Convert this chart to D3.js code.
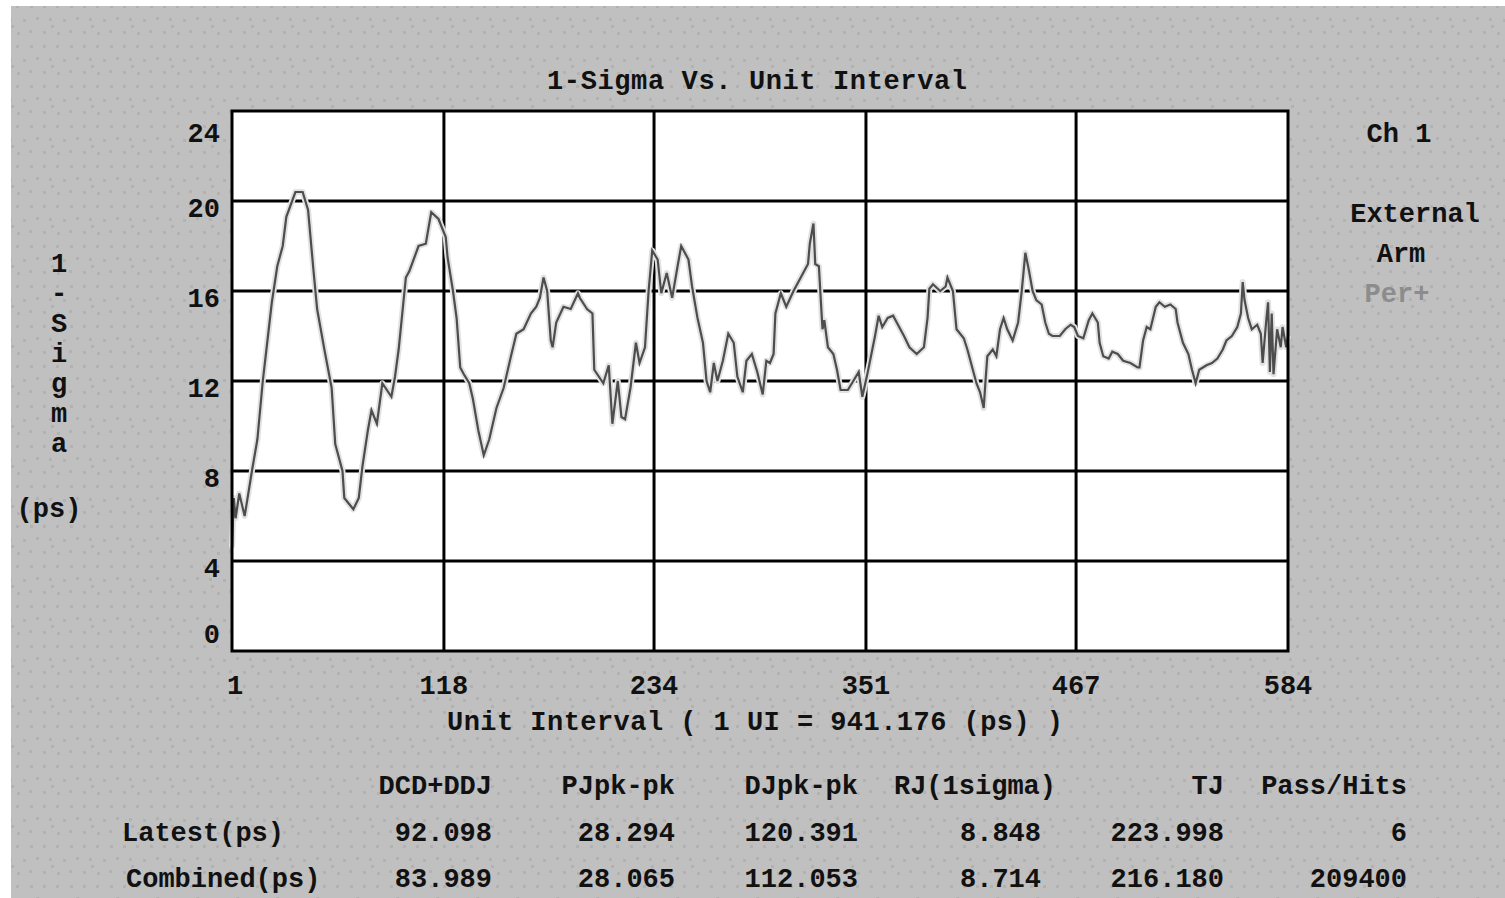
<!DOCTYPE html>
<html>
<head>
<meta charset="utf-8">
<title>1-Sigma Vs. Unit Interval</title>
<script src="https://d3js.org/d3.v7.min.js"></script>
<style>
  body { margin: 0; background: #fff; }
  text { font-family: "Liberation Mono", "DejaVu Sans Mono", monospace; font-weight: bold; fill: #111; }
</style>
</head>
<body>
<div id="chart"></div>
<script>
//---------------------------- DATA ----------------------------//
const unitInterval = [
  1, 2, 3, 5, 8, 12, 15, 18, 20, 23, 26, 29, 31, 36, 40, 43, 46, 48, 52, 56,
  58, 62, 63, 68, 71, 73, 76, 78, 81, 84, 89, 91, 93, 97, 99, 104, 108, 111, 115, 119,
  120, 123, 125, 127, 129, 132, 134, 137, 140, 143, 147, 151, 155, 158, 162, 166, 169, 171, 173, 175,
  177, 178, 180, 184, 188, 192, 193, 197, 200, 201, 206, 209, 211, 214, 216, 218, 221, 224, 226, 229,
  231, 233, 236, 238, 241, 244, 247, 249, 253, 255, 258, 261, 263, 265, 267, 269, 272, 275, 278, 280,
  283, 285, 288, 291, 294, 296, 298, 300, 301, 304, 307, 311, 315, 319, 320, 322, 323, 325, 327, 328,
  330, 333, 335, 337, 341, 344, 347, 349, 352, 356, 358, 360, 363, 366, 368, 372, 375, 379, 383, 385,
  386, 388, 392, 395, 396, 399, 401, 405, 407, 410, 412, 414, 416, 417, 418, 421, 423, 425, 427, 429,
  432, 435, 437, 439, 441, 443, 445, 448, 450, 452, 454, 458, 461, 464, 466, 468, 471, 474, 476, 479,
  480, 482, 485, 487, 490, 493, 497, 501, 502, 504, 506, 508, 511, 513, 516, 519, 522, 523, 526, 529,
  531, 533, 535, 539, 542, 545, 548, 550, 553, 556, 558, 559, 560, 562, 564, 567, 569, 570, 572, 573,
  574, 575, 576, 578, 580, 581, 583, 584
];
const sigma = [
  4.6, 6.8, 5.9, 7.0, 6.0, 8.0, 9.4, 12.0, 13.4, 15.5, 17.1, 18.0, 19.3, 20.4, 20.4, 19.6, 16.9, 15.2, 13.4, 11.7,
  9.2, 8.0, 6.8, 6.3, 6.8, 8.2, 9.8, 10.7, 10.1, 11.9, 11.3, 12.2, 13.4, 16.6, 16.9, 18.0, 18.1, 19.5, 19.2, 18.4,
  17.5, 16.0, 14.8, 12.6, 12.3, 11.9, 11.2, 9.8, 8.7, 9.4, 10.8, 11.7, 13.1, 14.1, 14.3, 15.0, 15.3, 15.7, 16.6, 16.0,
  13.8, 13.5, 14.6, 15.3, 15.2, 15.9, 15.7, 15.2, 15.0, 12.5, 11.9, 12.7, 10.1, 12.0, 10.4, 10.3, 11.7, 13.7, 12.8, 13.5,
  16.0, 17.8, 17.4, 15.9, 16.8, 15.7, 17.1, 18.0, 17.4, 16.2, 14.8, 13.7, 12.0, 11.5, 12.8, 12.0, 12.9, 14.1, 13.7, 12.2,
  11.5, 12.9, 13.2, 12.4, 11.4, 12.9, 12.8, 13.2, 15.0, 15.9, 15.3, 16.0, 16.6, 17.2, 18.1, 19.0, 17.2, 17.1, 14.3, 14.7,
  13.5, 13.2, 12.5, 11.6, 11.6, 12.0, 12.4, 11.3, 12.4, 14.0, 14.9, 14.4, 14.8, 14.9, 14.6, 14.0, 13.5, 13.2, 13.5, 14.8,
  16.1, 16.3, 16.0, 16.2, 16.6, 16.0, 14.3, 13.9, 13.4, 12.5, 11.9, 11.5, 10.8, 12.0, 13.1, 13.4, 13.1, 14.3, 14.8, 14.3,
  13.8, 14.6, 16.0, 17.7, 16.9, 16.0, 15.6, 15.4, 14.6, 14.1, 14.0, 14.0, 14.3, 14.5, 14.4, 14.0, 13.9, 14.7, 15.0, 14.6,
  13.7, 13.1, 13.0, 13.3, 13.2, 12.9, 12.8, 12.6, 12.6, 13.8, 14.4, 14.3, 15.3, 15.5, 15.3, 15.4, 15.2, 14.6, 13.7, 13.2,
  12.5, 11.9, 12.5, 12.7, 12.8, 13.0, 13.4, 13.8, 14.0, 14.4, 15.0, 16.4, 15.6, 14.8, 14.3, 14.5, 14.1, 12.8, 14.7, 15.5,
  12.4, 15.0, 12.3, 14.3, 13.5, 14.4, 13.5, 14.0
];
const xTicks = [1, 118, 234, 351, 467, 584];
const yTicks = [0, 4, 8, 12, 16, 20, 24];

const tableColumns = ["DCD+DDJ", "PJpk-pk", "DJpk-pk", "RJ(1sigma)", "TJ", "Pass/Hits"];
const tableRows = ["Latest(ps)", "Combined(ps)"];
const latestValues = ["92.098", "28.294", "120.391", "8.848", "223.998", "6"];
const combinedValues = ["83.989", "28.065", "112.053", "8.714", "216.180", "209400"];

const rightLabels = ["Ch 1", "External", "Arm", "Per+"];

//---------------------------- SVG ----------------------------//
const width = 1505, height = 898;
const plot = { left: 232, right: 1288, top: 111, bottom: 651 };

const svg = d3.select("#chart").append("svg")
  .attr("width", width)
  .attr("height", height);

// speckled grey panel
const defs = svg.append("defs");
const pat = defs.append("pattern")
  .attr("id", "speck")
  .attr("width", 40).attr("height", 40)
  .attr("patternUnits", "userSpaceOnUse");
pat.append("rect").attr("width", 40).attr("height", 40).attr("fill", "#c0c0c0");
[[3, 5], [16, 5], [30, 5], [9, 18], [23, 19], [36, 17], [3, 31], [17, 32], [29, 30], [11, 25]]
  .forEach(p => pat.append("rect").attr("x", p[0]).attr("y", p[1])
    .attr("width", 3).attr("height", 3).attr("fill", "#b2b2b2"));

svg.append("rect").attr("width", width).attr("height", height).attr("fill", "#fff");
svg.append("rect").attr("x", 11).attr("y", 6)
  .attr("width", width - 11).attr("height", height - 6)
  .attr("fill", "url(#speck)");

//---------------------------- SCALES ----------------------------//
const x = d3.scaleLinear().domain([1, 584]).range([plot.left, plot.right]);
const y = d3.scaleLinear().domain([0, 24]).range([plot.bottom, plot.top]);

// plot background
svg.append("rect")
  .attr("x", plot.left).attr("y", plot.top)
  .attr("width", plot.right - plot.left).attr("height", plot.bottom - plot.top)
  .attr("fill", "#fff");

// grid
svg.append("g").selectAll("line")
  .data(yTicks.slice(1, -1))
  .join("line")
  .attr("x1", plot.left).attr("x2", plot.right)
  .attr("y1", d => y(d)).attr("y2", d => y(d))
  .attr("stroke", "#000").attr("stroke-width", 3);

svg.append("g").selectAll("line")
  .data(xTicks.slice(1, -1))
  .join("line")
  .attr("y1", plot.top).attr("y2", plot.bottom)
  .attr("x1", d => x(d)).attr("x2", d => x(d))
  .attr("stroke", "#000").attr("stroke-width", 3);

// data line
const pts = unitInterval.map((u, i) => [u, sigma[i]]);
const line = d3.line().x(d => x(d[0])).y(d => y(d[1]));

svg.append("path").datum(pts)
  .attr("d", line)
  .attr("fill", "none")
  .attr("stroke", "#e2e2e2")
  .attr("stroke-width", 6)
  .attr("stroke-linejoin", "round");

svg.append("path").datum(pts)
  .attr("d", line)
  .attr("fill", "none")
  .attr("stroke", "#4d4d4d")
  .attr("stroke-width", 2.2);

// border
svg.append("rect")
  .attr("x", plot.left).attr("y", plot.top)
  .attr("width", plot.right - plot.left).attr("height", plot.bottom - plot.top)
  .attr("fill", "none").attr("stroke", "#000").attr("stroke-width", 3);

//---------------------------- AXES LABELS ----------------------------//
const fs = 27;

// y tick labels sit just below their gridline, kept inside the plot height
svg.append("g").selectAll("text")
  .data(yTicks)
  .join("text")
  .attr("x", 220)
  .attr("y", d => Math.min(Math.max(y(d) + 16, plot.top + 31), plot.bottom - 8))
  .attr("text-anchor", "end")
  .attr("font-size", fs)
  .text(d => d);

svg.append("g").selectAll("text")
  .data(xTicks)
  .join("text")
  .attr("x", d => x(d) + (d === 1 ? 3 : 0))
  .attr("y", 694)
  .attr("text-anchor", "middle")
  .attr("font-size", fs)
  .text(d => d);

svg.append("text")
  .attr("x", 757).attr("y", 89)
  .attr("text-anchor", "middle")
  .attr("font-size", fs)
  .attr("textLength", 420)
  .text("1-Sigma Vs. Unit Interval");

svg.append("text")
  .attr("x", 755).attr("y", 730)
  .attr("text-anchor", "middle")
  .attr("font-size", fs)
  .attr("textLength", 616)
  .text("Unit Interval ( 1 UI = 941.176 (ps) )");

// vertical stacked y label
svg.append("g").selectAll("text")
  .data("1-Sigma".split(""))
  .join("text")
  .attr("x", 59)
  .attr("y", (d, i) => 272 + i * 30)
  .attr("text-anchor", "middle")
  .attr("font-size", fs)
  .text(d => d);

svg.append("text")
  .attr("x", 49).attr("y", 517)
  .attr("text-anchor", "middle")
  .attr("font-size", fs)
  .text("(ps)");

// right side labels
const rightX = [1399, 1415, 1401, 1397];
const rightY = [142, 222, 262, 302];
svg.append("g").selectAll("text")
  .data(rightLabels)
  .join("text")
  .attr("x", (d, i) => rightX[i])
  .attr("y", (d, i) => rightY[i])
  .attr("text-anchor", "middle")
  .attr("font-size", fs)
  .style("fill", (d, i) => i === 3 ? "#8c8c8c" : "#111")
  .text(d => d);

//---------------------------- TABLE ----------------------------//
const col = d3.scalePoint().domain(tableColumns).range([492, 1407]);

svg.append("g").selectAll("text")
  .data(tableColumns)
  .join("text")
  .attr("x", d => col(d) + (d === "RJ(1sigma)" ? 15 : 0))
  .attr("y", 794)
  .attr("text-anchor", "end")
  .attr("font-size", fs)
  .text(d => d);

svg.append("g").selectAll("text")
  .data(tableRows)
  .join("text")
  .attr("x", (d, i) => i === 0 ? 122 : 126)
  .attr("y", (d, i) => 841 + i * 46)
  .attr("font-size", fs)
  .text(d => d);

[latestValues, combinedValues].forEach((vals, r) => {
  svg.append("g").selectAll("text")
    .data(vals)
    .join("text")
    .attr("x", (d, i) => col(tableColumns[i]))
    .attr("y", 841 + r * 46)
    .attr("text-anchor", "end")
    .attr("font-size", fs)
    .text(d => d);
});
</script>
</body>
</html>
